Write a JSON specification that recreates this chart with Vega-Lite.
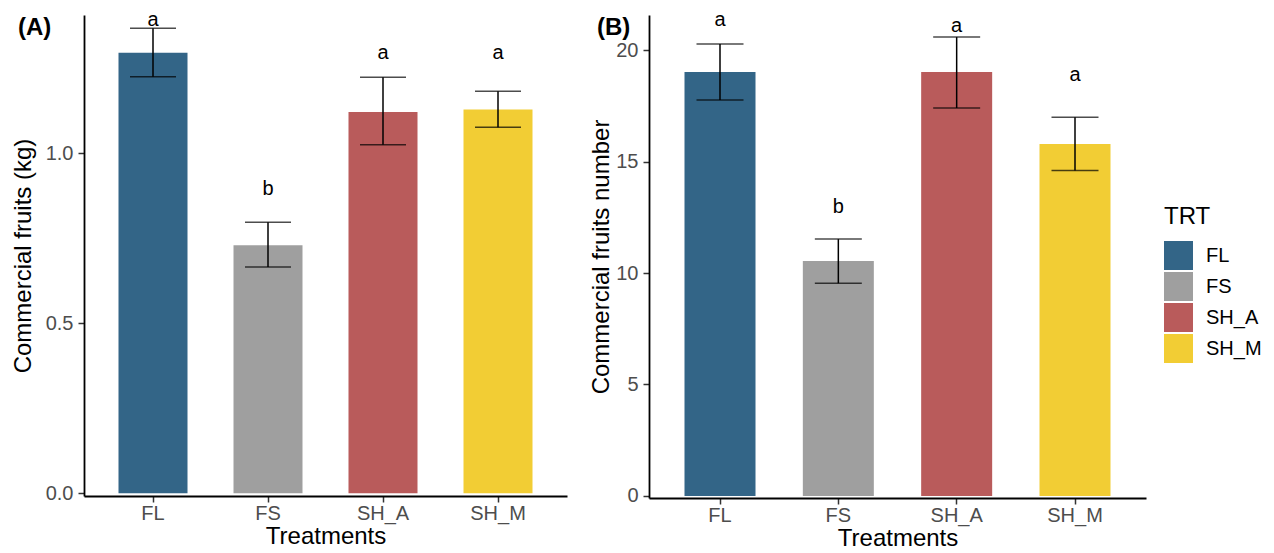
{
  "$schema": "https://vega.github.io/schema/vega-lite/v6.json",
  "autosize": {"type": "pad"},
  "padding": {"left": 11, "top": 9, "right": 0, "bottom": 0},
  "background": "white",
  "datasets": {
    "kg": [
      {"TRT": "FL", "mean": 1.296, "lo": 1.225, "hi": 1.368, "lab": "a", "laby": 1.392},
      {"TRT": "FS", "mean": 0.730, "lo": 0.666, "hi": 0.797, "lab": "b", "laby": 0.895},
      {"TRT": "SH_A", "mean": 1.122, "lo": 1.025, "hi": 1.224, "lab": "a", "laby": 1.294},
      {"TRT": "SH_M", "mean": 1.129, "lo": 1.077, "hi": 1.183, "lab": "a", "laby": 1.294}
    ],
    "num": [
      {"TRT": "FL", "mean": 19.01, "lo": 17.76, "hi": 20.27, "lab": "a", "laby": 21.35},
      {"TRT": "FS", "mean": 10.54, "lo": 9.54, "hi": 11.52, "lab": "b", "laby": 12.95},
      {"TRT": "SH_A", "mean": 19.01, "lo": 17.40, "hi": 20.58, "lab": "a", "laby": 21.08},
      {"TRT": "SH_M", "mean": 15.78, "lo": 14.60, "hi": 16.98, "lab": "a", "laby": 18.88}
    ]
  },
  "hconcat": [
    {
      "width": 483,
      "height": 481,
      "data": {"name": "kg"},
      "title": {"text": "(A)", "anchor": "start", "frame": "group", "orient": "top", "offset": -34, "dx": -66, "dy": 15, "baseline": "alphabetic"},
      "encoding": {
        "x": {
          "field": "TRT", "type": "nominal", "sort": ["FL", "FS", "SH_A", "SH_M"],
          "scale": {"paddingInner": 0.4, "paddingOuter": 0.3},
          "axis": {"title": "Treatments", "labelAngle": 0, "labelPadding": 1, "titlePadding": 1}
        }
      },
      "layer": [
        {
          "mark": {"type": "bar"},
          "encoding": {
            "y": {
              "field": "mean", "type": "quantitative",
              "scale": {"domain": [-0.008, 1.407], "nice": false, "zero": false},
              "axis": {"title": "Commercial fruits (kg)", "values": [0, 0.5, 1.0], "format": ".1f", "labelPadding": 5, "titlePadding": 10}
            },
            "color": {
              "field": "TRT", "type": "nominal",
              "scale": {"domain": ["FL", "FS", "SH_A", "SH_M"], "range": ["#336587", "#9F9F9F", "#B95B5B", "#F2CD34"]},
              "legend": {"title": "TRT"}
            }
          }
        },
        {
          "mark": {"type": "rule", "color": "black", "strokeWidth": 1.5},
          "encoding": {"y": {"field": "lo", "type": "quantitative"}, "y2": {"field": "hi"}}
        },
        {
          "mark": {"type": "tick", "color": "black", "thickness": 1.5, "size": 46, "orient": "horizontal"},
          "encoding": {"y": {"field": "lo", "type": "quantitative"}}
        },
        {
          "mark": {"type": "tick", "color": "black", "thickness": 1.5, "size": 46, "orient": "horizontal"},
          "encoding": {"y": {"field": "hi", "type": "quantitative"}}
        },
        {
          "mark": {"type": "text", "fontSize": 20, "font": "Liberation Sans", "color": "black", "baseline": "middle"},
          "encoding": {"y": {"field": "laby", "type": "quantitative"}, "text": {"field": "lab"}}
        }
      ]
    },
    {
      "width": 497,
      "height": 483,
      "data": {"name": "num"},
      "title": {"text": "(B)", "anchor": "start", "frame": "group", "orient": "top", "offset": -34, "dx": -52, "dy": 15, "baseline": "alphabetic"},
      "encoding": {
        "x": {
          "field": "TRT", "type": "nominal", "sort": ["FL", "FS", "SH_A", "SH_M"],
          "scale": {"paddingInner": 0.4, "paddingOuter": 0.3},
          "axis": {"title": "Treatments", "labelAngle": 0, "labelPadding": 1, "titlePadding": 1}
        }
      },
      "layer": [
        {
          "mark": {"type": "bar"},
          "encoding": {
            "y": {
              "field": "mean", "type": "quantitative",
              "scale": {"domain": [-0.09, 21.57], "nice": false, "zero": false},
              "axis": {"title": "Commercial fruits number", "values": [0, 5, 10, 15, 20], "labelPadding": 5, "titlePadding": 2}
            },
            "color": {"field": "TRT", "type": "nominal", "legend": {"title": "TRT"}}
          }
        },
        {
          "mark": {"type": "rule", "color": "black", "strokeWidth": 1.5},
          "encoding": {"y": {"field": "lo", "type": "quantitative"}, "y2": {"field": "hi"}}
        },
        {
          "mark": {"type": "tick", "color": "black", "thickness": 1.5, "size": 47, "orient": "horizontal"},
          "encoding": {"y": {"field": "lo", "type": "quantitative"}}
        },
        {
          "mark": {"type": "tick", "color": "black", "thickness": 1.5, "size": 47, "orient": "horizontal"},
          "encoding": {"y": {"field": "hi", "type": "quantitative"}}
        },
        {
          "mark": {"type": "text", "fontSize": 20, "font": "Liberation Sans", "color": "black", "baseline": "middle"},
          "encoding": {"y": {"field": "laby", "type": "quantitative"}, "text": {"field": "lab"}}
        }
      ]
    }
  ],
  "spacing": 22,
  "resolve": {"scale": {"y": "independent", "color": "shared"}},
  "config": {
    "font": "Liberation Sans",
    "view": {"stroke": null},
    "axis": {
      "grid": false, "domainColor": "black", "domainWidth": 1.8,
      "tickColor": "#333333", "tickWidth": 1.5, "tickSize": 6,
      "labelFont": "Liberation Sans", "labelFontSize": 20, "labelColor": "#4D4D4D",
      "titleFont": "Liberation Sans", "titleFontSize": 24, "titleColor": "black", "titleFontWeight": "normal"
    },
    "legend": {
      "orient": "none", "legendX": 1080, "legendY": 190,
      "symbolType": "square", "symbolSize": 841, "symbolStrokeWidth": 0, "symbolOpacity": 1,
      "titleFont": "Liberation Sans", "titleFontSize": 24, "titleFontWeight": "normal", "titleColor": "black", "titlePadding": 12,
      "labelFont": "Liberation Sans", "labelFontSize": 20, "labelColor": "black", "labelOffset": 13, "rowPadding": 2
    },
    "title": {"font": "Liberation Sans", "fontSize": 24, "fontWeight": "bold", "color": "black"}
  }
}
